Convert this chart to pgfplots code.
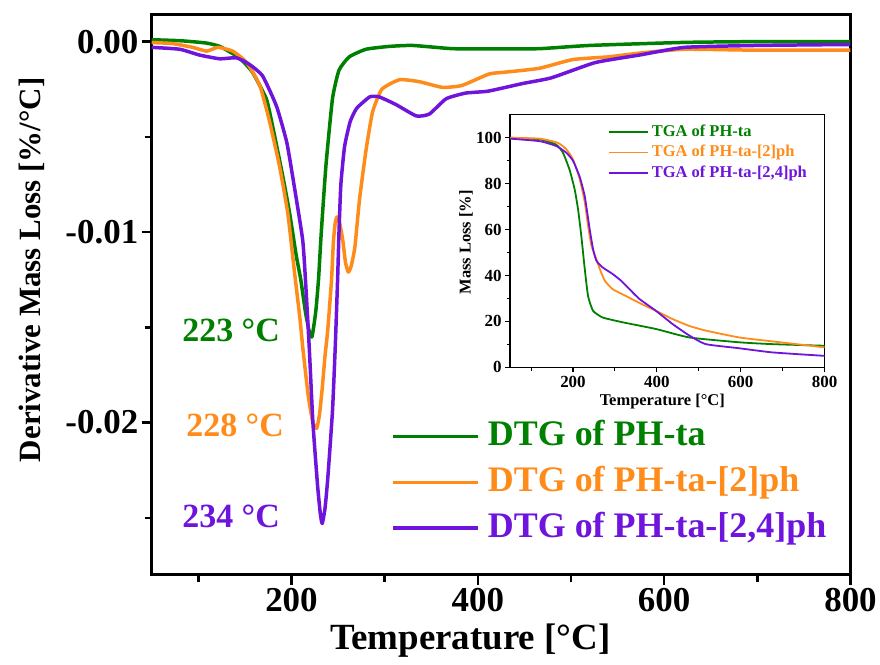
\documentclass[border=0pt]{standalone}
\usepackage{fontspec}
\setmainfont{Liberation Serif}
\usepackage{pgfplots}
\pgfplotsset{compat=1.18}
\definecolor{cgreen}{RGB}{0,128,0}
\definecolor{corange}{RGB}{255,140,26}
\definecolor{cpurple}{RGB}{110,20,220}

\begin{document}
\begin{tikzpicture}
% fixed canvas, 1 bp = 1 px of the reference
\path (0,0) rectangle (880bp,666bp);

% ---------------- main DTG axis ----------------
\begin{axis}[
  at={(152bp,90bp)}, anchor=south west,
  scale only axis, width=700bp, height=561bp,
  xmin=50, xmax=800, ymin=-0.028, ymax=0.0014,
  scaled y ticks=false,
  axis line style={line width=3bp},
  xtick={200,400,600,800}, xticklabels={200,400,600,800},
  minor xtick={100,300,500,700},
  ytick={-0.02,-0.01,0}, yticklabels={-0.02,-0.01,0.00},
  minor ytick={-0.025,-0.015,-0.005},
  tick pos=left, tick align=outside,
  major tick length=10bp, minor tick length=7bp,
  tick style={line width=2.5bp, black},
  ticklabel style={font=\fontsize{35bp}{40bp}\selectfont\bfseries},
  xlabel={Temperature [°C]},
  ylabel={Derivative Mass Loss [\%/°C]},
  xlabel style={font=\fontsize{37bp}{42bp}\selectfont\bfseries,
    at={(axis description cs:0.456,-0.118)}, anchor=center},
  ylabel style={font=\fontsize{31bp}{36bp}\selectfont\bfseries,
    at={(axis description cs:-0.171,0.545)}, anchor=center},
  legend style={at={(axis description cs:0.343,0.280)}, anchor=north west,
    draw=none, fill=none, inner sep=0pt, row sep=10bp,
    font=\fontsize{36bp}{40bp}\selectfont\bfseries,
    nodes={inner ysep=0pt, inner xsep=8bp, text height=27bp, text depth=9bp}},
  legend cell align=left,
  legend image code/.code={\draw[#1] (0bp,0bp) -- (85bp,0bp);},
  every axis plot/.append style={line width=3.5bp, line join=round, smooth, tension=0.3},
]
\addplot[cgreen] coordinates {
 (50,0.0001) (80,0.00005) (108,-0.00007) (123,-0.00025) (144,-0.00085)
 (158,-0.0016) (173,-0.003) (180,-0.0045) (190,-0.0069) (198,-0.009)
 (205,-0.0112) (210,-0.0125) (215,-0.0142) (219,-0.0152) (222,-0.0155)
 (226,-0.0142) (229,-0.0125) (232,-0.0100) (237,-0.0065) (244,-0.0030)
 (251,-0.0015) (262,-0.0008) (280,-0.0004) (305,-0.00025) (330,-0.0002)
 (373,-0.00037) (420,-0.00038) (466,-0.00037) (520,-0.0002) (622,-0.00004)
 (700,0) (800,0)};
\addlegendentry{\textcolor{cgreen}{DTG of PH-ta}}
\addplot[corange] coordinates {
 (50,-0.00005) (72,-0.0001) (94,-0.0003) (109,-0.0005) (121,-0.0003)
 (137,-0.0005) (152,-0.0011) (166,-0.0023) (176,-0.0041) (187,-0.0065)
 (196,-0.009) (203,-0.012) (209,-0.0145) (212,-0.016) (218,-0.0186)
 (223,-0.0200) (227,-0.0203) (230,-0.0196) (233,-0.0182) (236,-0.0165)
 (239,-0.0151) (243,-0.0125) (245,-0.0105) (247,-0.0095) (249,-0.0092)
 (252,-0.0096) (255,-0.0104) (258,-0.0116) (261,-0.0121) (264,-0.0118)
 (268,-0.0108) (273,-0.0083) (280,-0.0057) (287,-0.0037) (297,-0.0025)
 (316,-0.002) (337,-0.0021) (362,-0.0024) (383,-0.0023) (412,-0.0017)
 (430,-0.0016) (466,-0.0014) (502,-0.00094) (540,-0.0008) (574,-0.0006)
 (622,-0.0004) (700,-0.00045) (800,-0.00045)};
\addlegendentry{\textcolor{corange}{DTG of PH-ta-[2]ph}}
\addplot[cpurple] coordinates {
 (50,-0.0003) (80,-0.0004) (101,-0.0007) (123,-0.0009) (141,-0.00085)
 (155,-0.0012) (169,-0.0018) (184,-0.0034) (195,-0.0053) (203,-0.0076)
 (212,-0.0104) (215,-0.0125) (219,-0.0160) (223,-0.0200) (228,-0.0233)
 (231,-0.0248) (233,-0.0253) (236,-0.0245) (239,-0.0229) (244,-0.0194)
 (247,-0.0160) (249.5,-0.0125) (251,-0.0100) (253,-0.0075) (257,-0.0055)
 (263,-0.0042) (270,-0.0035) (284,-0.0029) (294,-0.0029) (312,-0.0033)
 (334,-0.0039) (348,-0.0038) (366,-0.0030) (387,-0.0027) (411,-0.0026)
 (448,-0.0022) (479,-0.0019) (526,-0.0011) (574,-0.0007) (622,-0.0003)
 (700,-0.0002) (800,-0.00015)};
\addlegendentry{\textcolor{cpurple}{DTG of PH-ta-[2,4]ph}}

\node[font=\fontsize{34bp}{38bp}\selectfont\bfseries, text=cgreen]
  at (axis cs:135.2,-0.01518) {223 °C};
\node[font=\fontsize{34bp}{38bp}\selectfont\bfseries, text=corange]
  at (axis cs:139.5,-0.02016) {228 °C};
\node[font=\fontsize{34bp}{38bp}\selectfont\bfseries, text=cpurple]
  at (axis cs:135.2,-0.02492) {234 °C};
\end{axis}

% ---------------- inset TGA axis ----------------
\begin{axis}[
  at={(511bp,298bp)}, anchor=south west,
  scale only axis, width=315bp, height=253bp,
  xmin=50, xmax=800, ymin=0, ymax=110,
  axis background/.style={fill=white},
  axis line style={line width=1.3bp},
  xtick={200,400,600,800}, xticklabels={200,400,600,800},
  minor xtick={100,300,500,700},
  ytick={0,20,40,60,80,100}, yticklabels={0,20,40,60,80,100},
  minor ytick={10,30,50,70,90},
  tick pos=left, tick align=outside,
  major tick length=5bp, minor tick length=3.5bp,
  tick style={line width=1.1bp, black},
  ticklabel style={font=\fontsize{17bp}{20bp}\selectfont\bfseries},
  xlabel={Temperature [°C]},
  ylabel={Mass Loss [\%]},
  xlabel style={font=\fontsize{16.5bp}{19bp}\selectfont\bfseries,
    at={(axis description cs:0.484,-0.134)}, anchor=center},
  ylabel style={font=\fontsize{16.5bp}{19bp}\selectfont\bfseries,
    at={(axis description cs:-0.14,0.495)}, anchor=center},
  legend style={at={(axis description cs:0.311,0.965)}, anchor=north west,
    draw=none, fill=none, inner sep=0pt, row sep=4bp,
    font=\fontsize{16.5bp}{19bp}\selectfont\bfseries,
    nodes={inner ysep=0pt, inner xsep=3bp, text height=12.5bp, text depth=4bp}},
  legend cell align=left,
  legend image code/.code={\draw[#1] (0bp,0bp) -- (39bp,0bp);},
  every axis plot/.append style={line width=1.8bp, line join=round, smooth, tension=0.3},
]
\addplot[cgreen] coordinates {
 (50,100) (121,99.3) (160,97) (176,93.5) (192,86) (204,77.5) (212,69)
 (220,57) (228,43) (236,31) (248,24.6) (271,21.7) (319,19.6) (398,16.7)
 (478,13) (597,10.9) (676,10.1) (800,9.4)};
\addlegendentry{\textcolor{cgreen}{TGA of PH-ta}}
\addplot[corange] coordinates {
 (50,100) (121,99.6) (164,97.8) (184,95) (200,90.6) (216,82) (228,72)
 (236,61.6) (244,53) (256,47) (264,42.8) (276,37.7) (295,34) (327,31)
 (359,28) (398,24.6) (438,21) (478,18) (517,16) (597,13) (676,11.3) (800,8.7)};
\addlegendentry{\textcolor{corange}{TGA of PH-ta-[2]ph}}
\addplot[cpurple] coordinates {
 (50,99.6) (121,98.5) (160,96.4) (184,93.5) (200,90) (216,83) (228,74.6)
 (240,60) (248,51.4) (256,46.4) (271,43.5) (295,40.6) (315,37.7) (335,34)
 (359,29.7) (398,24.6) (438,18.8) (478,13.8) (517,10.1) (597,8.3) (676,6.5)
 (800,5)};
\addlegendentry{\textcolor{cpurple}{TGA of PH-ta-[2,4]ph}}
\end{axis}
\end{tikzpicture}
\end{document}
